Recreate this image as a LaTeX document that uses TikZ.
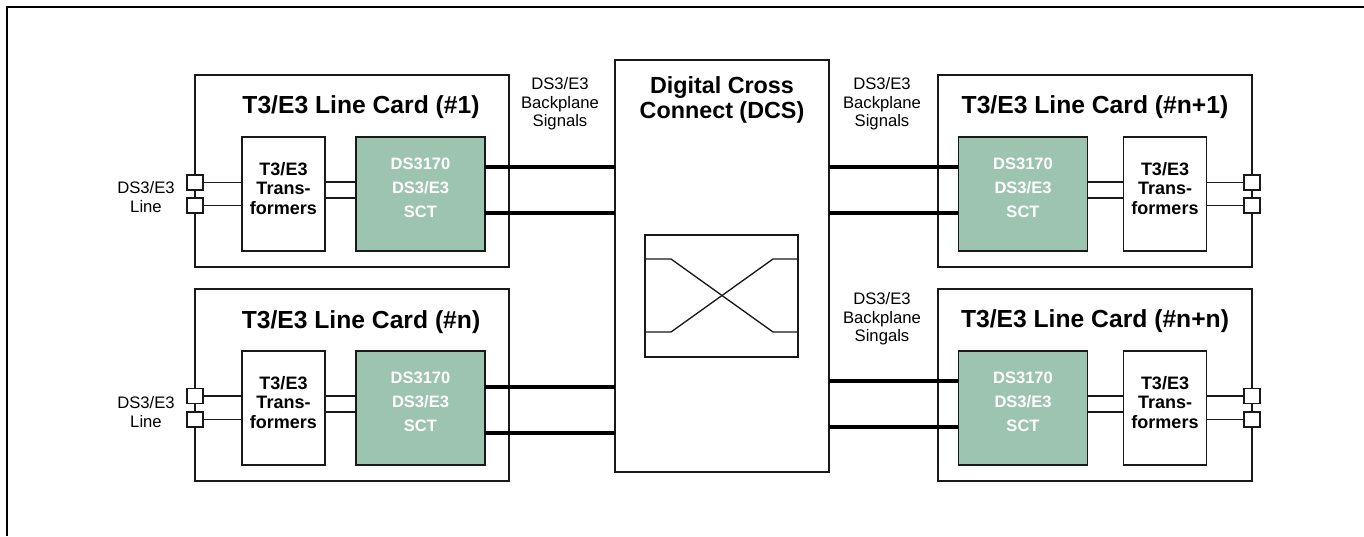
\documentclass[tikz,border=0pt]{standalone}
\usepackage{fontspec}
\setmainfont{Liberation Sans}
\usetikzlibrary{calc}
\definecolor{sctgreen}{RGB}{157,196,177}
\definecolor{lineblk}{RGB}{25,25,25}
\begin{document}
\begin{tikzpicture}[x=0.75pt,y=-0.75pt,
  every node/.style={inner sep=0pt, outer sep=0pt},
  thinline/.style={draw=lineblk, line width=1pt},
  boxstyle/.style={draw=lineblk, line width=1.1pt, rectangle},
  cardbox/.style={boxstyle, fill=white, minimum width=235.5pt, minimum height=144pt},
  trbox/.style={boxstyle, fill=white, minimum width=62.25pt, minimum height=85.5pt},
  sctbox/.style={boxstyle, fill=sctgreen, minimum width=97pt, minimum height=85.5pt},
  dcsbox/.style={boxstyle, fill=white, minimum width=160.5pt, minimum height=309pt},
  xbox/.style={boxstyle, fill=white, minimum width=114.75pt, minimum height=91.5pt},
  portbox/.style={boxstyle, line width=1pt, fill=white, minimum width=12pt, minimum height=11.25pt},
  busline/.style={draw=black, line width=3pt},
  cardtitle/.style={font=\fontsize{18.5}{22}\selectfont\bfseries},
  dcstitle/.style={align=center, font=\fontsize{17.5}{18.75}\selectfont\bfseries},
  trtext/.style={align=center, font=\fontsize{13.5}{14.6}\selectfont\bfseries},
  scttext/.style={align=center, text=white, font=\fontsize{12.4}{18}\selectfont\bfseries},
  lbl/.style={align=center, font=\fontsize{12.5}{14}\selectfont},
]
\useasboundingbox (0,0) rectangle (1364,536);
% outer frame
\draw[line width=1.9pt, draw=black] (1364,7) -- (7,7) -- (7,536);

% ---------- DCS ----------
\node[dcsbox] (dcs) at (722,266) {};
\node[dcstitle] (dcst) at (722,100) {Digital Cross\\Connect (DCS)};
\node[xbox] (xb) at (721.5,296) {};
\draw[thinline] ($(xb.west)+(0,-37)$) -- ++(26,0) -- ($(xb.east)+(-25,36)$) -- ++(25,0);
\draw[thinline] ($(xb.west)+(0,36)$) -- ++(26,0) -- ($(xb.east)+(-25,-37)$) -- ++(25,0);

% ---------- Card #1 ----------
\node[cardbox] (c1) at (352,171) {};
\node[cardtitle] (c1t) at (361,107) {T3/E3 Line Card (\#1)};
\node[trbox] (tr1) at (283.5,194) {};
\node[trtext] (tr1t) at (283.5,188.5) {T3/E3\\Trans-\\formers};
\node[sctbox] (sct1) at (420.5,194) {};
\node[scttext] (sct1t) at (420.5,188) {DS3170\\DS3/E3\\SCT};
\node[portbox] (p1a) at (195,182.5) {};
\node[portbox] (p1b) at (195,205.5) {};
\node[lbl] (l1) at (146,197) {DS3/E3\\Line};
\draw[thinline] (p1a.east) -- (p1a.east -| tr1.west);
\draw[thinline] (p1b.east) -- (p1b.east -| tr1.west);
\draw[thinline] ($(tr1.east)+(0,-12)$) -- ($(sct1.west)+(0,-12)$);
\draw[thinline] ($(tr1.east)+(0,4)$) -- ($(sct1.west)+(0,4)$);
\coordinate (b1a) at ($(sct1.east)+(0,-27)$);
\coordinate (b1b) at ($(sct1.east)+(0,19)$);
\draw[busline] (b1a) -- (b1a -| dcs.west);
\draw[busline] (b1b) -- (b1b -| dcs.west);

% ---------- Card #n ----------
\node[cardbox] (c2) at (352,385) {};
\node[cardtitle] (c2t) at (361,322) {T3/E3 Line Card (\#n)};
\node[trbox] (tr2) at (283.5,408) {};
\node[trtext] (tr2t) at (283.5,402.5) {T3/E3\\Trans-\\formers};
\node[sctbox] (sct2) at (420.5,408) {};
\node[scttext] (sct2t) at (420.5,402) {DS3170\\DS3/E3\\SCT};
\node[portbox] (p2a) at (195,396) {};
\node[portbox] (p2b) at (195,419.5) {};
\node[lbl] (l2) at (146,412) {DS3/E3\\Line};
\draw[thinline] (p2a.east) -- (p2a.east -| tr2.west);
\draw[thinline] (p2b.east) -- (p2b.east -| tr2.west);
\draw[thinline] ($(tr2.east)+(0,-12)$) -- ($(sct2.west)+(0,-12)$);
\draw[thinline] ($(tr2.east)+(0,4)$) -- ($(sct2.west)+(0,4)$);
\coordinate (b2a) at ($(sct2.east)+(0,-21)$);
\coordinate (b2b) at ($(sct2.east)+(0,25)$);
\draw[busline] (b2a) -- (b2a -| dcs.west);
\draw[busline] (b2b) -- (b2b -| dcs.west);

% ---------- Card #n+1 ----------
\node[cardbox] (c3) at (1095,171) {};
\node[cardtitle] (c3t) at (1095,107) {T3/E3 Line Card (\#n+1)};
\node[sctbox] (sct3) at (1023,194) {};
\node[scttext] (sct3t) at (1023,188) {DS3170\\DS3/E3\\SCT};
\node[trbox] (tr3) at (1165,194) {};
\node[trtext] (tr3t) at (1165,188.5) {T3/E3\\Trans-\\formers};
\node[portbox] (p3a) at (1252,182.5) {};
\node[portbox] (p3b) at (1252,205.5) {};
\draw[thinline] (p3a.west) -- (p3a.west -| tr3.east);
\draw[thinline] (p3b.west) -- (p3b.west -| tr3.east);
\draw[thinline] ($(sct3.east)+(0,-12)$) -- ($(tr3.west)+(0,-12)$);
\draw[thinline] ($(sct3.east)+(0,4)$) -- ($(tr3.west)+(0,4)$);
\coordinate (b3a) at ($(sct3.west)+(0,-27)$);
\coordinate (b3b) at ($(sct3.west)+(0,19)$);
\draw[busline] (b3a -| dcs.east) -- (b3a);
\draw[busline] (b3b -| dcs.east) -- (b3b);

% ---------- Card #n+n ----------
\node[cardbox] (c4) at (1095,385) {};
\node[cardtitle] (c4t) at (1095,321) {T3/E3 Line Card (\#n+n)};
\node[sctbox] (sct4) at (1023,408) {};
\node[scttext] (sct4t) at (1023,402) {DS3170\\DS3/E3\\SCT};
\node[trbox] (tr4) at (1165,408) {};
\node[trtext] (tr4t) at (1165,402.5) {T3/E3\\Trans-\\formers};
\node[portbox] (p4a) at (1252,396) {};
\node[portbox] (p4b) at (1252,419.5) {};
\draw[thinline] (p4a.west) -- (p4a.west -| tr4.east);
\draw[thinline] (p4b.west) -- (p4b.west -| tr4.east);
\draw[thinline] ($(sct4.east)+(0,-12)$) -- ($(tr4.west)+(0,-12)$);
\draw[thinline] ($(sct4.east)+(0,4)$) -- ($(tr4.west)+(0,4)$);
\coordinate (b4a) at ($(sct4.west)+(0,-27)$);
\coordinate (b4b) at ($(sct4.west)+(0,19)$);
\draw[busline] (b4a -| dcs.east) -- (b4a);
\draw[busline] (b4b -| dcs.east) -- (b4b);

% ---------- backplane labels ----------
\node[lbl] (bp1) at (560,104) {DS3/E3\\Backplane\\Signals};
\node[lbl] (bp2) at (882,104) {DS3/E3\\Backplane\\Signals};
\node[lbl] (bp3) at (882,319) {DS3/E3\\Backplane\\Singals};
\end{tikzpicture}
\end{document}
